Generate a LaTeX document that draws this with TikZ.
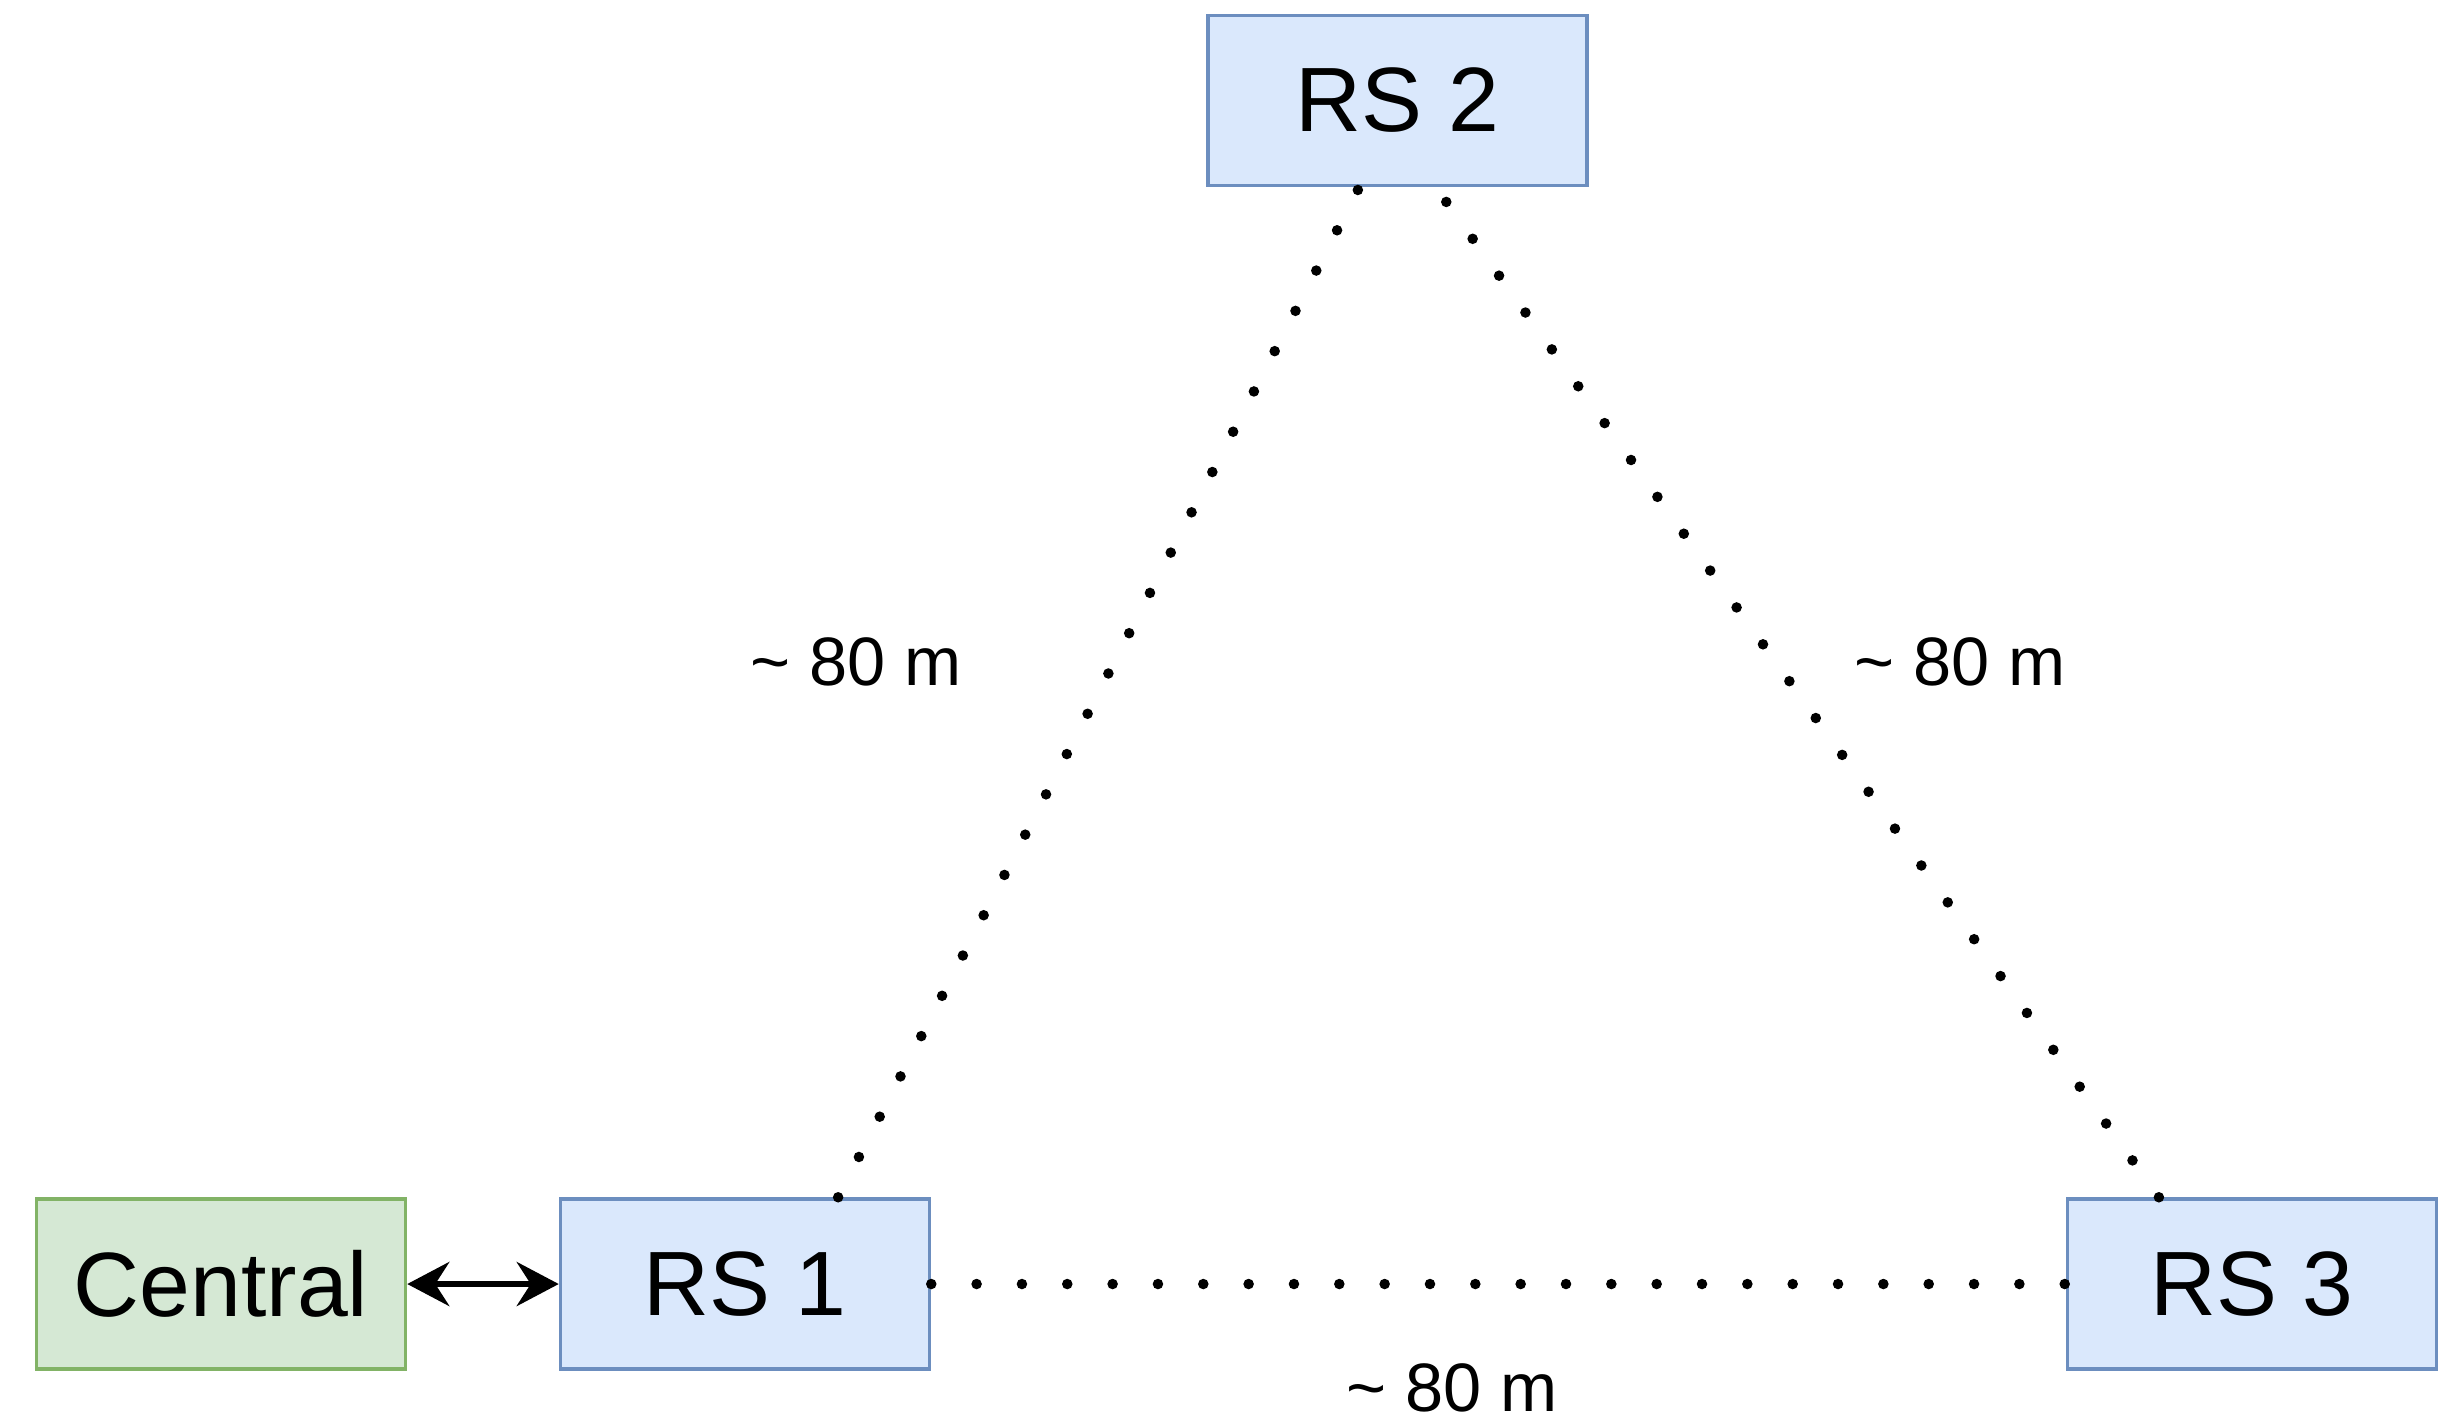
\documentclass[tikz,border=0pt]{standalone}
\usepackage{fontspec}
\setmainfont{Liberation Sans}
\usetikzlibrary{arrows.meta,calc}
\definecolor{rsfill}{HTML}{DAE8FC}
\definecolor{rsdraw}{HTML}{6C8EBF}
\definecolor{cenfill}{HTML}{D5E8D4}
\definecolor{cendraw}{HTML}{82B366}

\begin{document}
\begin{tikzpicture}[x=.1mm,y=-.1mm,line width=.35pt,
  box/.style={rectangle,inner sep=0pt,minimum width=36.9mm,minimum height=17mm,line width=1pt,font=\fontsize{26}{30}\selectfont},
  rs/.style={box,draw=rsdraw,fill=rsfill},
  cen/.style={box,draw=cendraw,fill=cenfill},
  link/.style={line width=3pt,line cap=round,dash pattern=on 0pt off 12.9pt},
  dist/.style={inner sep=0pt,font=\fontsize{19.5}{23}\selectfont}]
\useasboundingbox (0,0) rectangle (2458,1421);
\node[cen] (cen) at (221,1284) {Central};
\node[rs] (rs1) at (745,1284) {RS 1};
\node[rs,minimum width=37.9mm] (rs2) at (1397.5,100.5) {RS 2};
\node[rs] (rs3) at (2252,1284) {RS 3};
\draw[link] ($(rs1.north west)!.75!(rs1.north east)$) -- ($(rs2.south west)!.4!(rs2.south east)$);
\draw[link] ($(rs3.north west)!.25!(rs3.north east)$) -- ($(rs2.south west)!.6!(rs2.south east)$);
\draw[link] (rs1) -- (rs3);
\draw[line width=1.8pt,{Stealth[length=4.2mm,width=4.4mm,inset=1.4mm]}-{Stealth[length=4.2mm,width=4.4mm,inset=1.4mm]}] (cen) -- (rs1);
\node[dist] (d12) at (856,662) {\textasciitilde{} 80 m};
\node[dist] (d23) at (1960,662) {\textasciitilde{} 80 m};
\node[dist] (d13) at (1452,1388) {\textasciitilde{} 80 m};
\end{tikzpicture}
\end{document}
